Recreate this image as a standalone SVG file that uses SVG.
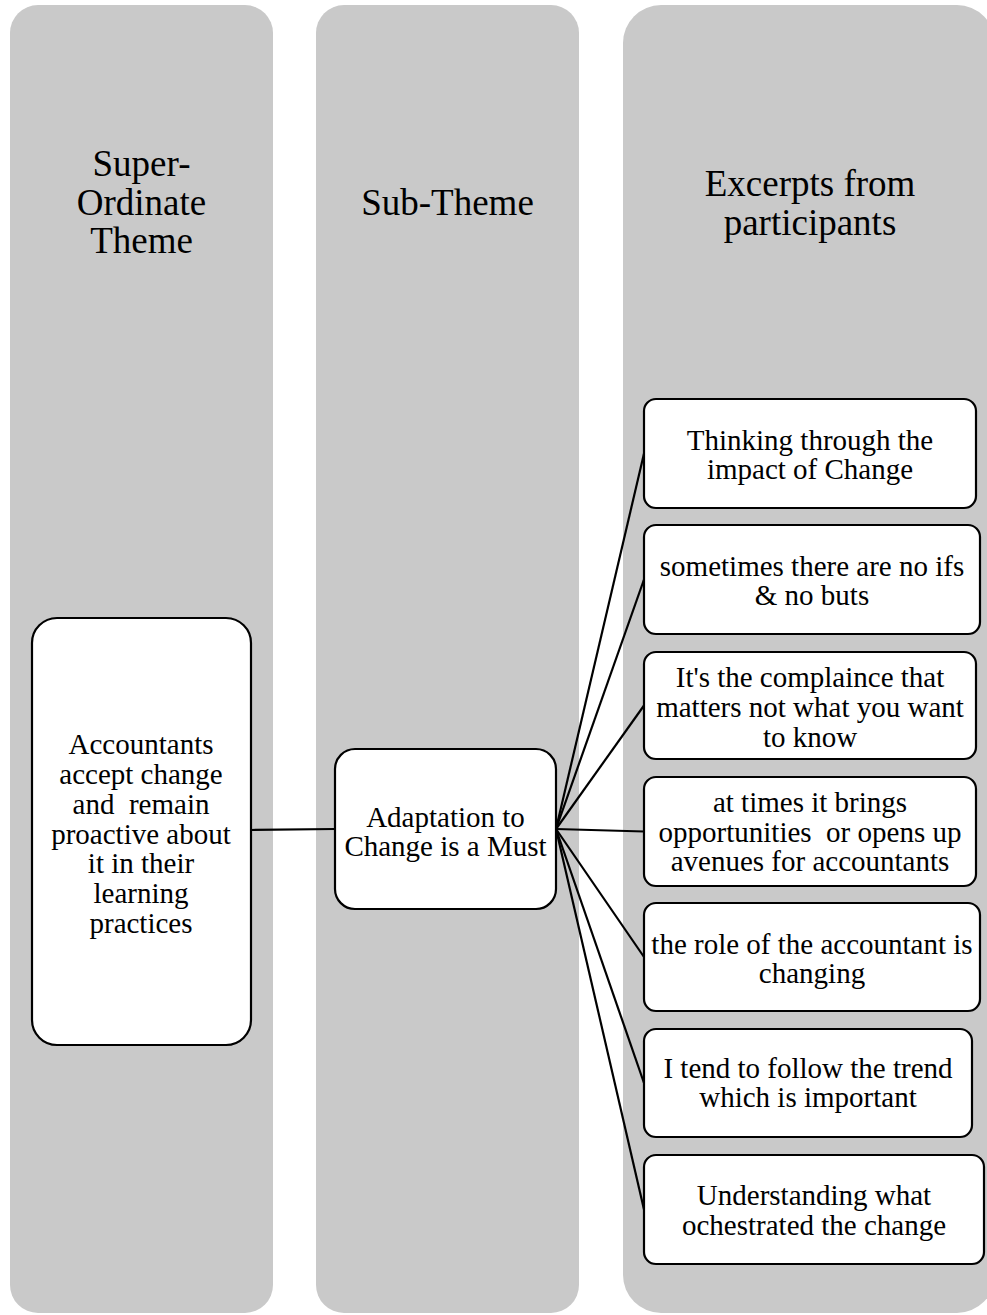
<svg xmlns="http://www.w3.org/2000/svg" width="987" height="1315" viewBox="0 0 987 1315">
  <style>
    .col { fill: #c9c9c9; }
    .box { fill: #ffffff; stroke: #000000; stroke-width: 2.2; }
    .head { font-family: "Liberation Serif", "Times New Roman", serif; font-size: 37px; fill: #000000; text-anchor: middle; dominant-baseline: central; }
    .lbl { font-family: "Liberation Serif", "Times New Roman", serif; font-size: 29px; fill: #000000; text-anchor: middle; dominant-baseline: central; white-space: pre; }
    .conn { stroke: #000000; stroke-width: 2.2; fill: none; }
  </style>

  <!-- column backgrounds -->
  <g id="columns">
    <rect class="col" x="10" y="5" width="263" height="1308" rx="28"/>
    <rect class="col" x="316" y="5" width="263" height="1308" rx="28"/>
    <rect class="col" x="623" y="5" width="372" height="1308" rx="38"/>
    <text class="head" x="141.5"><tspan x="141.5" y="163">Super-</tspan><tspan x="141.5" y="201.5">Ordinate</tspan><tspan x="141.5" y="240">Theme</tspan></text>
    <text class="head" x="447.5" y="202">Sub-Theme</text>
    <text class="head" x="810"><tspan x="810" y="183">Excerpts from</tspan><tspan x="810" y="222">participants</tspan></text>
  </g>

  <!-- connectors -->
  <g id="connectors">
    <line class="conn" x1="251" y1="830" x2="335" y2="829"/>
    <line class="conn" x1="556" y1="829" x2="644" y2="453.5"/>
    <line class="conn" x1="556" y1="829" x2="644" y2="579.5"/>
    <line class="conn" x1="556" y1="829" x2="644" y2="705.5"/>
    <line class="conn" x1="556" y1="829" x2="644" y2="831.5"/>
    <line class="conn" x1="556" y1="829" x2="644" y2="957"/>
    <line class="conn" x1="556" y1="829" x2="644" y2="1083"/>
    <line class="conn" x1="556" y1="829" x2="644" y2="1209.5"/>
  </g>

  <g id="super-theme">
    <rect class="box" x="32" y="618" width="219" height="427" rx="25"/>
    <text class="lbl" x="141"><tspan x="141" y="744">Accountants</tspan><tspan x="141" y="774">accept change</tspan><tspan x="141" y="804">and  remain</tspan><tspan x="141" y="834">proactive about</tspan><tspan x="141" y="863">it in their</tspan><tspan x="141" y="893">learning</tspan><tspan x="141" y="923">practices</tspan></text>
  </g>

  <g id="sub-theme">
    <rect class="box" x="335" y="749" width="221" height="160" rx="20"/>
    <text class="lbl" x="445.5"><tspan x="445.5" y="817">Adaptation to</tspan><tspan x="445.5" y="846">Change is a Must</tspan></text>
  </g>

  <g id="excerpt-1">
    <rect class="box" x="644" y="399" width="332" height="109" rx="12"/>
    <text class="lbl" x="810"><tspan x="810" y="440">Thinking through the</tspan><tspan x="810" y="469">impact of Change</tspan></text>
  </g>

  <g id="excerpt-2">
    <rect class="box" x="644" y="525" width="336" height="109" rx="12"/>
    <text class="lbl" x="812"><tspan x="812" y="566">sometimes there are no ifs</tspan><tspan x="812" y="595">&amp; no buts</tspan></text>
  </g>

  <g id="excerpt-3">
    <rect class="box" x="644" y="652" width="332" height="107" rx="12"/>
    <text class="lbl" x="810"><tspan x="810" y="677">It's the complaince that</tspan><tspan x="810" y="707">matters not what you want</tspan><tspan x="810" y="737">to know</tspan></text>
  </g>

  <g id="excerpt-4">
    <rect class="box" x="644" y="777" width="332" height="109" rx="12"/>
    <text class="lbl" x="810"><tspan x="810" y="802">at times it brings</tspan><tspan x="810" y="832">opportunities  or opens up</tspan><tspan x="810" y="861">avenues for accountants</tspan></text>
  </g>

  <g id="excerpt-5">
    <rect class="box" x="644" y="903" width="336" height="108" rx="12"/>
    <text class="lbl" x="812"><tspan x="812" y="944">the role of the accountant is</tspan><tspan x="812" y="973">changing</tspan></text>
  </g>

  <g id="excerpt-6">
    <rect class="box" x="644" y="1029" width="328" height="108" rx="12"/>
    <text class="lbl" x="808"><tspan x="808" y="1068">I tend to follow the trend</tspan><tspan x="808" y="1097">which is important</tspan></text>
  </g>

  <g id="excerpt-7">
    <rect class="box" x="644" y="1155" width="340" height="109" rx="12"/>
    <text class="lbl" x="814"><tspan x="814" y="1195">Understanding what</tspan><tspan x="814" y="1225">ochestrated the change</tspan></text>
  </g>
</svg>
